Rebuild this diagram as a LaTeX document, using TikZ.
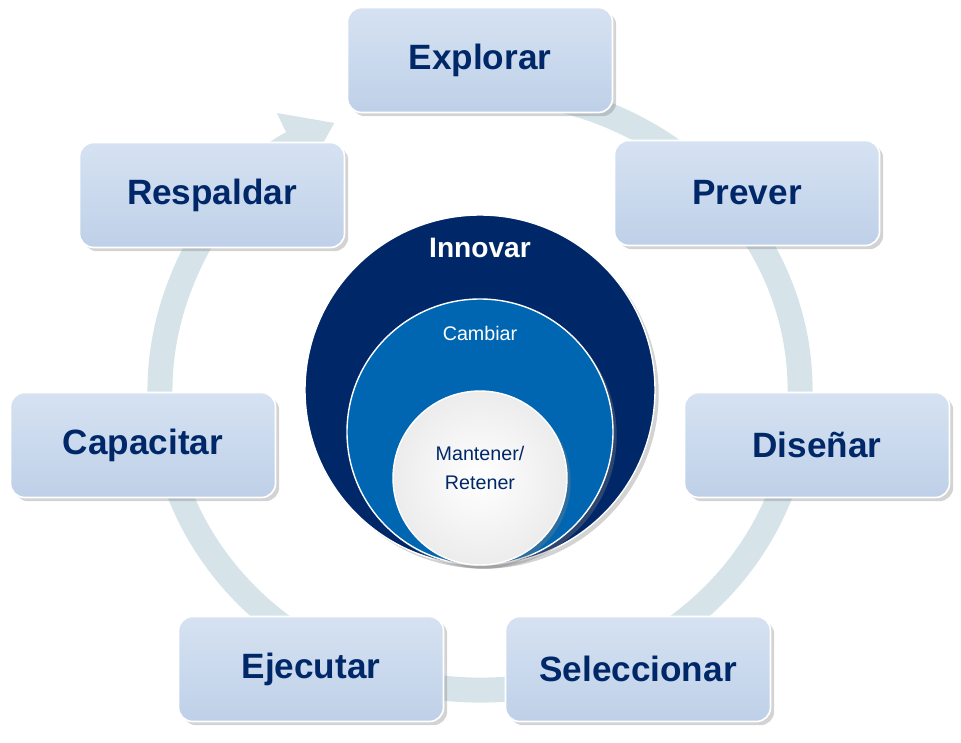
\documentclass[tikz,border=0pt]{standalone}
\usepackage{fontspec}
\setmainfont{Liberation Sans}
\usetikzlibrary{arrows.meta,shadows,positioning}
\definecolor{ringc}{RGB}{214,228,234}
\definecolor{boxc}{RGB}{190,208,232}
\definecolor{boxtop}{RGB}{214,226,242}
\definecolor{navy}{RGB}{0,40,104}
\definecolor{midblue}{RGB}{0,102,178}
\tikzset{
  stage/.style={draw=white, line width=1.2pt, rounded corners=10pt,
    top color=boxtop, bottom color=boxc, drop shadow={opacity=0.35},
    minimum width=265*0.025cm, minimum height=105*0.025cm,
    font=\bfseries\fontsize{25}{28}\selectfont, text=navy},
  disc/.style={circle, draw=white, line width=1pt, drop shadow={opacity=0.35}}
}
\begin{document}
\begin{tikzpicture}[x=0.025cm,y=-0.025cm]
    \useasboundingbox (0,0) rectangle (961,743);
    % the ring with its arrow
    \draw[ringc, line width=25*0.025cm, -{Triangle[length=1.2cm,width=1.6cm]}]
      (535.6,94.6) arc[start angle=-80, end angle=243, x radius=320, y radius=300];
    % the stages
    \node[stage] (explorar) at (480,60) {Explorar};
    \node[stage] (prever) at (747,193) {Prever};
    \node[stage] (disenar) at (817,445) {Diseñar};
    \node[stage] (seleccionar) at (638,669) {Seleccionar};
    \node[stage] (ejecutar) at (311,669) {Ejecutar};
    \node[stage] (capacitar) at (143,445) {Capacitar};
    \node[stage] (respaldar) at (212,195) {Respaldar};
    % the discs in the middle
    \node[disc, fill=navy, minimum size=350*0.025cm] (innovar) at (480,390) {};
    \node[disc, fill=midblue, minimum size=266*0.025cm] (cambiar) at (480,432) {};
    \node[disc, inner color=white, outer color=gray!15, minimum size=174*0.025cm] (mantener) at (480,478) {};
    \node[text=white, font=\bfseries\fontsize{20}{24}\selectfont] at (480,248) {Innovar};
    \node[text=white, font=\fontsize{14}{17}\selectfont] at (480,333) {Cambiar};
    \node[text=navy, font=\fontsize{14}{21}\selectfont, align=center] at (480,468) {Mantener/\\Retener};
\end{tikzpicture}
\end{document}
